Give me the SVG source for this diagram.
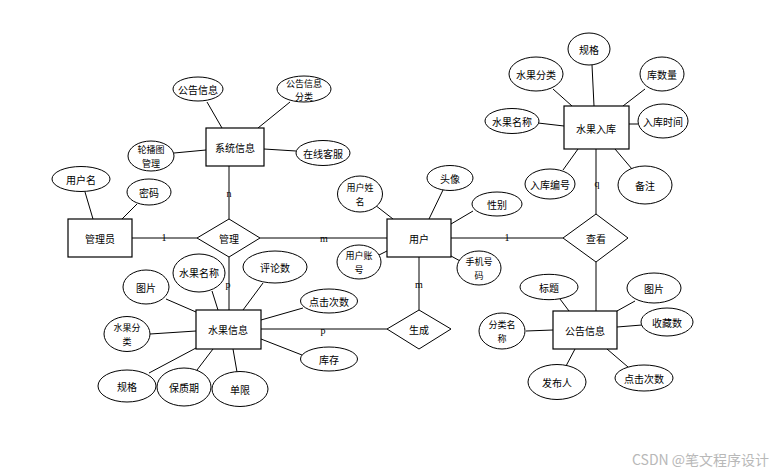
<svg xmlns="http://www.w3.org/2000/svg" width="779" height="474" viewBox="0 0 779 474">
<style>
.e{fill:#fff;stroke:#000;stroke-width:1}
.r{fill:#fff;stroke:#000;stroke-width:1.2}
.d{fill:#fff;stroke:#000;stroke-width:1}
.t{font-family:"Noto Sans CJK SC","Liberation Sans",sans-serif;font-size:10px;fill:#000;text-anchor:middle;dominant-baseline:central}
.m{font-family:"Noto Sans CJK SC","Liberation Sans",sans-serif;font-size:9px;fill:#000;text-anchor:middle;dominant-baseline:central}
.c{font-family:"Liberation Serif",serif;font-size:10px;fill:#000;text-anchor:middle;dominant-baseline:central}
#connectors line{stroke:#000;stroke-width:1}
</style>
<rect width="779" height="474" fill="#fff"/>
<g id="connectors">
<line x1="132" y1="238" x2="197" y2="238"/>
<line x1="260" y1="238" x2="387" y2="238"/>
<line x1="229" y1="166" x2="229" y2="219"/>
<line x1="229" y1="257" x2="229" y2="310"/>
<line x1="451" y1="238" x2="563" y2="238"/>
<line x1="596" y1="149" x2="596" y2="214"/>
<line x1="596" y1="262" x2="596" y2="311"/>
<line x1="419" y1="257" x2="419" y2="310"/>
<line x1="261" y1="329" x2="387" y2="329"/>
<line x1="207" y1="102" x2="222" y2="128"/>
<line x1="290" y1="102" x2="258" y2="128"/>
<line x1="174" y1="153" x2="206" y2="150"/>
<line x1="264" y1="149" x2="296" y2="151"/>
<line x1="85" y1="192" x2="93" y2="219"/>
<line x1="137" y1="204" x2="122" y2="219"/>
<line x1="375" y1="205" x2="393" y2="219"/>
<line x1="443" y1="190" x2="429" y2="219"/>
<line x1="473" y1="211" x2="451" y2="224"/>
<line x1="379" y1="255" x2="387" y2="251"/>
<line x1="451" y1="256" x2="462" y2="262"/>
<line x1="592" y1="65" x2="594" y2="106"/>
<line x1="553" y1="89" x2="572" y2="106"/>
<line x1="645" y1="89" x2="623" y2="106"/>
<line x1="538" y1="123" x2="564" y2="126"/>
<line x1="629" y1="124" x2="638" y2="124"/>
<line x1="563" y1="170" x2="578" y2="149"/>
<line x1="632" y1="169" x2="615" y2="149"/>
<line x1="166" y1="299" x2="196" y2="312"/>
<line x1="212" y1="291" x2="218" y2="310"/>
<line x1="263" y1="283" x2="243" y2="310"/>
<line x1="303" y1="308" x2="261" y2="320"/>
<line x1="150" y1="334" x2="196" y2="331"/>
<line x1="261" y1="339" x2="302" y2="355"/>
<line x1="149" y1="373" x2="196" y2="348"/>
<line x1="197" y1="370" x2="213" y2="349"/>
<line x1="237" y1="372" x2="233" y2="349"/>
<line x1="560" y1="299" x2="569" y2="311"/>
<line x1="635" y1="301" x2="617" y2="311"/>
<line x1="617" y1="327" x2="642" y2="325"/>
<line x1="526" y1="331" x2="553" y2="330"/>
<line x1="566" y1="366" x2="575" y2="349"/>
<line x1="628" y1="367" x2="607" y2="349"/>
<text class="c" x="229" y="193">n</text>
<text class="c" x="164" y="237">1</text>
<text class="c" x="324" y="238">m</text>
<text class="c" x="507" y="237">1</text>
<text class="c" x="597" y="183">q</text>
<text class="c" x="419" y="284">m</text>
<text class="c" x="228" y="284">p</text>
<text class="c" x="323" y="330">p</text>
</g>
<g id="e-xitong"><rect class="r" x="206" y="128" width="58" height="38"/><text class="t" x="235" y="147">系统信息</text></g>
<g id="e-guanliyuan"><rect class="r" x="68" y="219" width="64" height="38"/><text class="t" x="100" y="238">管理员</text></g>
<g id="r-guanli"><polygon class="d" points="229,219 260,238 229,257 197,238"/><text class="t" x="229" y="238">管理</text></g>
<g id="e-yonghu"><rect class="r" x="387" y="219" width="64" height="38"/><text class="t" x="419" y="238">用户</text></g>
<g id="r-chakan"><polygon class="d" points="596,214 628,238 596,262 563,238"/><text class="t" x="596" y="238">查看</text></g>
<g id="e-ruku"><rect class="r" x="564" y="106" width="65" height="43"/><text class="t" x="596" y="128">水果入库</text></g>
<g id="e-gonggao"><rect class="r" x="553" y="311" width="64" height="38"/><text class="t" x="585" y="330">公告信息</text></g>
<g id="r-shengcheng"><polygon class="d" points="419,310 451,329 419,349 387,329"/><text class="t" x="419" y="329">生成</text></g>
<g id="e-shuiguo"><rect class="r" x="196" y="310" width="65" height="39"/><text class="t" x="228" y="329">水果信息</text></g>

<g id="a-ggxx"><ellipse class="e" cx="198" cy="89" rx="25" ry="12"/><text class="t" x="198" y="89">公告信息</text></g>
<g id="a-ggxxfl"><ellipse class="e" cx="304" cy="89" rx="27" ry="13"/><text class="m" x="304" y="83">公告信息<tspan x="304" dy="13.2">分类</tspan></text></g>
<g id="a-lbt"><ellipse class="e" cx="151" cy="156" rx="23" ry="15"/><text class="m" x="151" y="149.5">轮播图<tspan x="151" dy="13.2">管理</tspan></text></g>
<g id="a-zxkf"><ellipse class="e" cx="323" cy="153" rx="27" ry="12.5"/><text class="t" x="323" y="153">在线客服</text></g>
<g id="a-yhm"><ellipse class="e" cx="81" cy="179" rx="29" ry="12.5"/><text class="t" x="81" y="179">用户名</text></g>
<g id="a-mm"><ellipse class="e" cx="149" cy="192" rx="22" ry="13"/><text class="t" x="149" y="192">密码</text></g>

<g id="a-yhxm"><ellipse class="e" cx="360" cy="194" rx="22.5" ry="18"/><text class="m" x="360" y="187">用户姓<tspan x="360" dy="14">名</tspan></text></g>
<g id="a-tx"><ellipse class="e" cx="450" cy="178" rx="23" ry="12.5"/><text class="t" x="450" y="178">头像</text></g>
<g id="a-xb"><ellipse class="e" cx="497" cy="204" rx="25" ry="12"/><text class="t" x="497" y="204">性别</text></g>
<g id="a-yhzh"><ellipse class="e" cx="359" cy="262" rx="22" ry="17"/><text class="m" x="359" y="255">用户账<tspan x="359" dy="14">号</tspan></text></g>
<g id="a-sjhm"><ellipse class="e" cx="479" cy="268" rx="22" ry="17"/><text class="m" x="479" y="261">手机号<tspan x="479" dy="14">码</tspan></text></g>

<g id="a-gg1"><ellipse class="e" cx="589" cy="49" rx="21" ry="16"/><text class="t" x="589" y="49">规格</text></g>
<g id="a-sgfl1"><ellipse class="e" cx="536" cy="74" rx="27" ry="17"/><text class="t" x="536" y="74">水果分类</text></g>
<g id="a-ksl"><ellipse class="e" cx="662" cy="74" rx="22" ry="17"/><text class="t" x="662" y="74">库数量</text></g>
<g id="a-sgmc1"><ellipse class="e" cx="512" cy="121" rx="27" ry="12.5"/><text class="t" x="512" y="121">水果名称</text></g>
<g id="a-rksj"><ellipse class="e" cx="663" cy="121" rx="25" ry="17"/><text class="t" x="663" y="121">入库时间</text></g>
<g id="a-rkbh"><ellipse class="e" cx="550" cy="184" rx="25" ry="15"/><text class="t" x="550" y="184">入库编号</text></g>
<g id="a-bz"><ellipse class="e" cx="645" cy="185" rx="27" ry="19"/><text class="t" x="645" y="185">备注</text></g>

<g id="a-tp1"><ellipse class="e" cx="146" cy="287" rx="23" ry="17"/><text class="t" x="146" y="287">图片</text></g>
<g id="a-sgmc2"><ellipse class="e" cx="199" cy="273" rx="26" ry="19"/><text class="t" x="199" y="272">水果名称</text></g>
<g id="a-pls"><ellipse class="e" cx="275" cy="267" rx="32" ry="16"/><text class="t" x="275" y="267">评论数</text></g>
<g id="a-djcs1"><ellipse class="e" cx="329" cy="301" rx="28.5" ry="12"/><text class="t" x="329" y="301">点击次数</text></g>
<g id="a-sgfl2"><ellipse class="e" cx="127" cy="334" rx="23" ry="17.5"/><text class="m" x="127" y="327.5">水果分<tspan x="127" dy="13.2">类</tspan></text></g>
<g id="a-kc"><ellipse class="e" cx="329" cy="359" rx="28.5" ry="12"/><text class="t" x="329" y="359">库存</text></g>
<g id="a-gg2"><ellipse class="e" cx="127" cy="386" rx="29" ry="16"/><text class="t" x="127" y="386">规格</text></g>
<g id="a-bzq"><ellipse class="e" cx="184" cy="387" rx="27" ry="19"/><text class="t" x="184" y="387">保质期</text></g>
<g id="a-dx"><ellipse class="e" cx="240" cy="389" rx="28" ry="17.5"/><text class="t" x="240" y="389">单限</text></g>

<g id="a-bt"><ellipse class="e" cx="549" cy="287" rx="29" ry="12.7"/><text class="t" x="549" y="287">标题</text></g>
<g id="a-tp2"><ellipse class="e" cx="654" cy="288" rx="27" ry="15"/><text class="t" x="654" y="288">图片</text></g>
<g id="a-scs"><ellipse class="e" cx="667" cy="322" rx="26" ry="14"/><text class="t" x="667" y="322">收藏数</text></g>
<g id="a-flmc"><ellipse class="e" cx="502" cy="331" rx="23" ry="18"/><text class="m" x="502" y="324.5">分类名<tspan x="502" dy="13.2">称</tspan></text></g>
<g id="a-fbr"><ellipse class="e" cx="557" cy="382" rx="29" ry="17.5"/><text class="t" x="557" y="382">发布人</text></g>
<g id="a-djcs2"><ellipse class="e" cx="644" cy="378" rx="29" ry="13"/><text class="t" x="644" y="378">点击次数</text></g>

<text x="632" y="465" font-family="Noto Sans CJK SC, Liberation Sans, sans-serif" font-size="14" fill="#b8b8b8">CSDN @笔文程序设计</text>
</svg>
